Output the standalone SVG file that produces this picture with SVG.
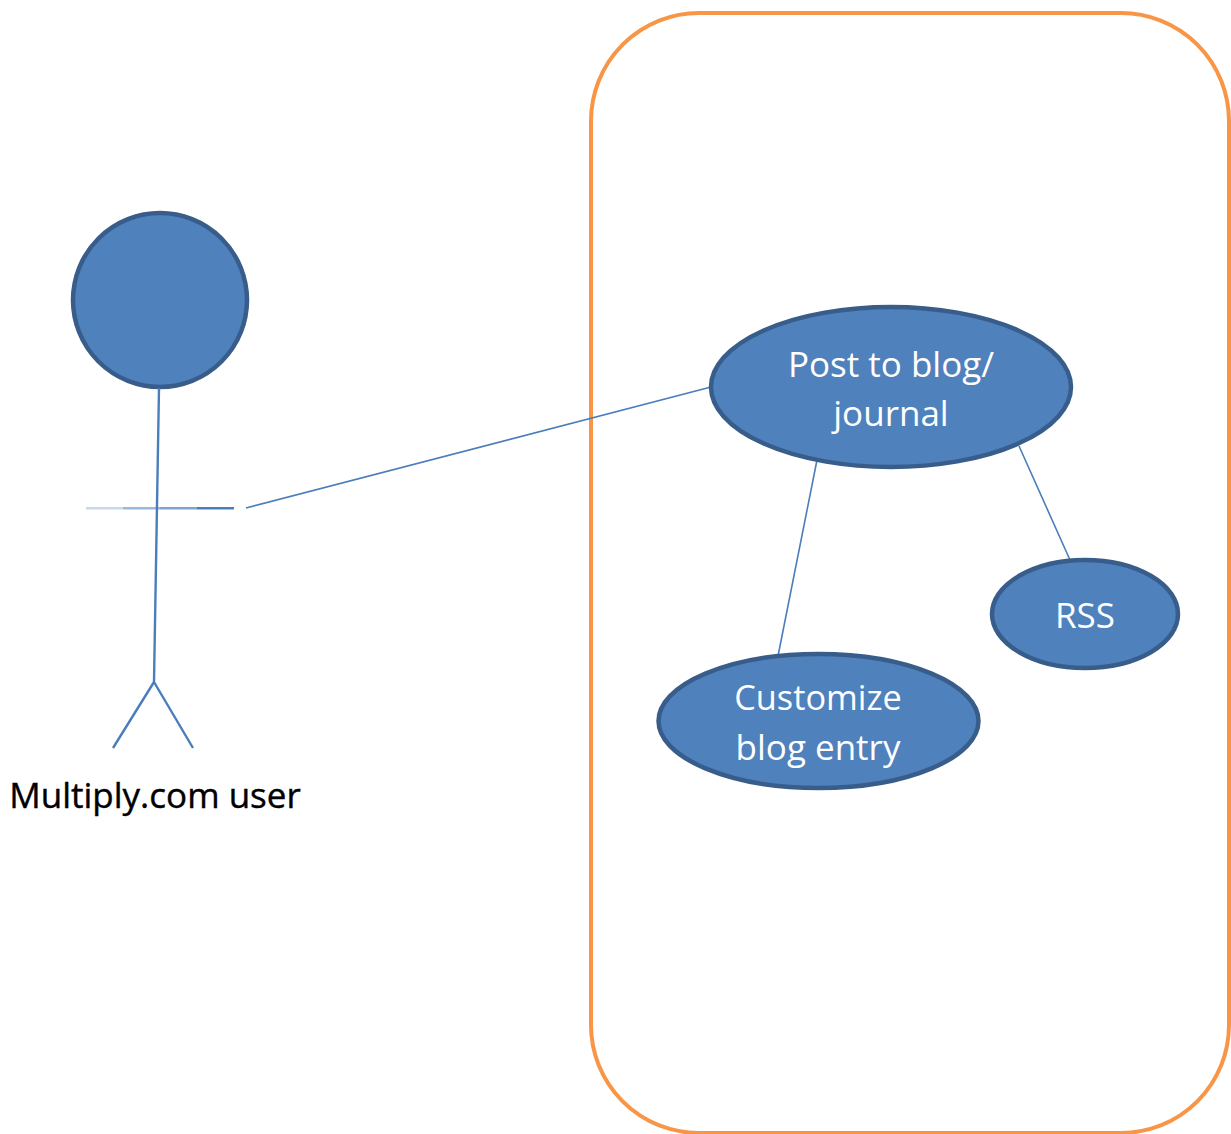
<svg xmlns="http://www.w3.org/2000/svg" width="1231" height="1134" viewBox="0 0 1231 1134">
<defs>
<linearGradient id="arm" gradientUnits="userSpaceOnUse" x1="86" y1="0" x2="234" y2="0">
<stop offset="0" stop-color="#c9d9ec"/><stop offset=".25" stop-color="#c9d9ec"/>
<stop offset=".25" stop-color="#9ab8dc"/><stop offset=".5" stop-color="#9ab8dc"/>
<stop offset=".5" stop-color="#7fa3cf"/><stop offset=".75" stop-color="#7fa3cf"/>
<stop offset=".75" stop-color="#4a7ebb"/><stop offset="1" stop-color="#4a7ebb"/>
</linearGradient>
</defs>
<style>
.n{fill:#4f81bd;stroke:#385d8a;stroke-width:4.5}
.c{fill:none;stroke:#4a7ebb;stroke-width:1.6}
.a{fill:none;stroke:#4a7ebb;stroke-width:2.4}
.t{font-family:"Open Sans","Noto Sans",sans-serif;font-size:35px;fill:#fff;text-anchor:middle}
</style>
<rect width="1231" height="1134" fill="#fff"/>
<g id="system"><rect x="591" y="13" width="638" height="1120" rx="108" ry="108" fill="none" stroke="#f79646" stroke-width="4"/></g>
<g id="actor">
<circle class="n" cx="160" cy="300" r="87"/>
<path d="M86 508.300H234" fill="none" stroke="url(#arm)" stroke-width="2.4"/>
<path class="a" d="M159 388L154 682M154 682L113 748M154 682L193 748"/>
<text x="155" y="808" font-family="'Open Sans','Noto Sans',sans-serif" font-size="35" fill="#000" stroke="#000" stroke-width=".4" text-anchor="middle">Multiply.com user</text>
</g>
<g id="connectors">
<path class="c" d="M246 508L711 387M817 460L778 656M1019 446L1070 560"/>
</g>
<g id="post"><ellipse class="n" cx="891" cy="387" rx="180" ry="80"/><text class="t" x="891" y="377">Post to blog/</text><text class="t" x="891" y="426">journal</text></g>
<g id="rss"><ellipse class="n" cx="1085" cy="614" rx="93" ry="54"/><text class="t" x="1085" y="628">RSS</text></g>
<g id="customize"><ellipse class="n" cx="818.500" cy="721" rx="160" ry="67"/><text class="t" x="818" y="710" style="font-size:34.300px">Customize</text><text class="t" x="818" y="760">blog entry</text></g>
</svg>
